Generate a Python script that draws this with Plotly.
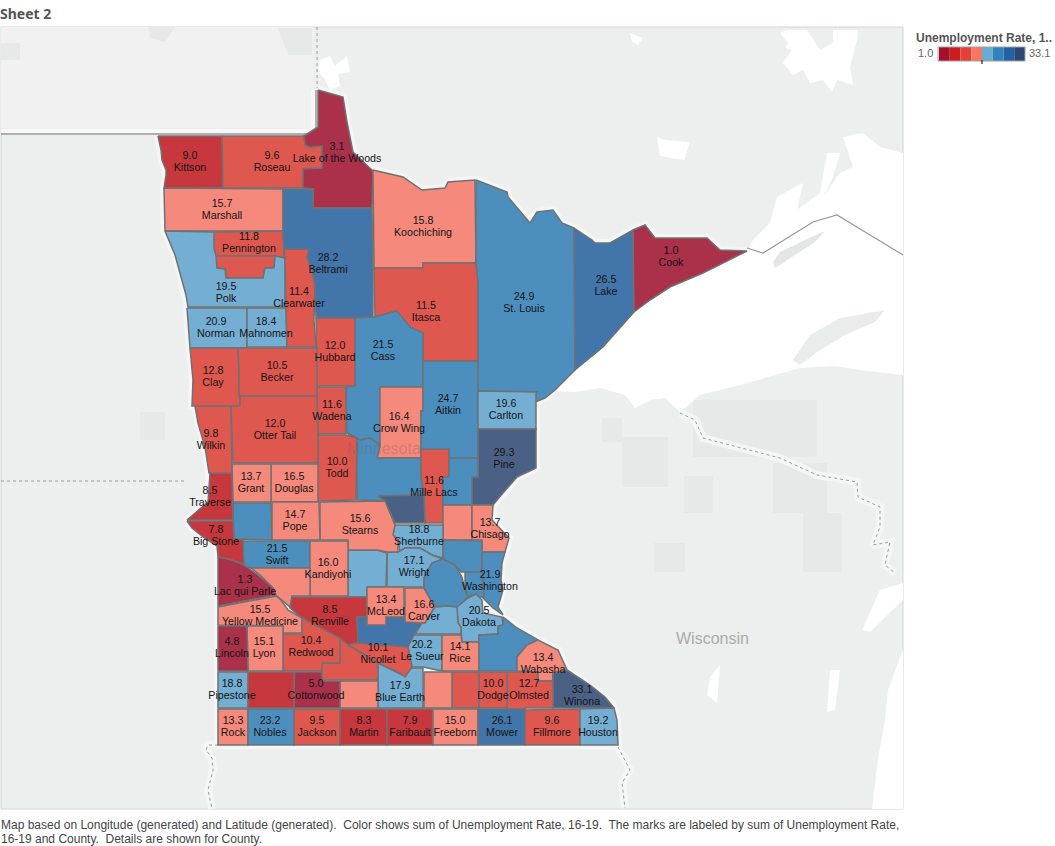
import numpy as np
import plotly.graph_objects as go

# Rates; counties with no label are estimated from their colour
county_values = {
    'Aitkin': 24.7, 'Anoka': 23.0, 'Becker': 10.5, 'Beltrami': 28.2, 'Benton': 30.0, 'Big Stone': 7.8,
    'Blue Earth': 17.9, 'Brown': 11.0, 'Carlton': 19.6, 'Carver': 16.6, 'Cass': 21.5, 'Chippewa': 15.0,
    'Chisago': 13.7, 'Clay': 12.8, 'Clearwater': 11.4, 'Cook': 1.0, 'Cottonwood': 5.0, 'Crow Wing': 16.4,
    'Dakota': 20.5, 'Dodge': 10.0, 'Douglas': 16.5, 'Faribault': 7.9, 'Fillmore': 9.6, 'Freeborn': 15.0,
    'Goodhue': 23.0, 'Grant': 13.7, 'Hennepin': 23.0, 'Houston': 19.2, 'Hubbard': 12.0, 'Isanti': 15.0,
    'Itasca': 11.5, 'Jackson': 9.5, 'Kanabec': 23.0, 'Kandiyohi': 16.0, 'Kittson': 9.0, 'Koochiching': 15.8,
    'Lac qui Parle': 1.3, 'Lake': 26.5, 'Lake of the Woods': 3.1, 'Le Sueur': 20.2, 'Lincoln': 4.8,
    'Lyon': 15.1, 'McLeod': 13.4, 'Mahnomen': 18.4, 'Marshall': 15.7, 'Martin': 8.3, 'Meeker': 18.0,
    'Mille Lacs': 11.6, 'Morrison': 23.0, 'Mower': 26.1, 'Murray': 8.0, 'Nicollet': 10.1, 'Nobles': 23.2,
    'Norman': 20.9, 'Olmsted': 12.7, 'Otter Tail': 12.0, 'Pennington': 11.8, 'Pine': 29.3, 'Pipestone': 18.8,
    'Polk': 19.5, 'Pope': 14.7, 'Ramsey': 23.0, 'Red Lake': 11.0, 'Redwood': 10.4, 'Renville': 8.5,
    'Rice': 14.1, 'Rock': 13.3, 'Roseau': 9.6, 'St. Louis': 24.9, 'Scott': 19.0, 'Sherburne': 18.8,
    'Sibley': 27.0, 'Stearns': 15.6, 'Steele': 11.0, 'Stevens': 24.0, 'Swift': 21.5, 'Todd': 10.0,
    'Traverse': 8.5, 'Wabasha': 13.4, 'Wadena': 11.6, 'Waseca': 15.0, 'Washington': 21.9, 'Watonwan': 14.0,
    'Wilkin': 9.8, 'Winona': 33.1, 'Wright': 17.1, 'Yellow Medicine': 15.5,
}

unlabeled = ['Anoka', 'Benton', 'Brown', 'Chippewa', 'Goodhue', 'Hennepin', 'Isanti', 'Kanabec', 'Meeker',
             'Morrison', 'Murray', 'Ramsey', 'Red Lake', 'Scott', 'Sibley', 'Steele', 'Stevens', 'Waseca',
             'Watonwan']

bin_edges = [5, 9, 13, 17, 21, 25, 29]
fill_colors = ['#AB304A', '#C6383D', '#DF5850', '#F4897C', '#74AED3', '#4C8FBF', '#4275AA', '#4B6085']
legend_colors = ['#A50F2D', '#C81E22', '#E33F37', '#FA7566', '#68ACD4', '#3083BC', '#2262A3', '#2C4870']
legend_min = '1.0'
legend_max = '33.1'
legend_title = 'Unemployment Rate, 1..'
sheet_title = 'Sheet 2'
footer_1 = ('Map based on Longitude (generated) and Latitude (generated).  Color shows sum of Unemployment Rate, '
            '16-19.  The marks are labeled by sum of Unemployment Rate,')
footer_2 = '16-19 and County.  Details are shown for County.'

# County outlines traced in the map's own projected units
county_outlines = {
    'Kittson': [(158,136),(222,136),(223,188),(164,188),(166,175),(166,170),(162,160),(161,150)],
    'Roseau': [(222,136),(304,136),(305,145),(310,147),(322,146),(322,168),(303,169),(303,188),(223,188)],
    'Lake of the Woods': [(318,90),(343,97),(347,122),(353,152),(373,171),(372,208),(313,208),(313,189),(303,188),(303,169),(322,168),(322,146),(310,147),(305,145),(304,136),(318,127)],
    'Marshall': [(164,188),(283,189),(283,231),(165,231)],
    'Pennington': [(214,232),(283,231),(284,258),(275,256),(216,256),(214,248)],
    'Red Lake': [(216,256),(275,256),(274,268),(265,268),(263,278),(226,278),(225,269),(217,268)],
    'Polk': [(165,231),(214,232),(214,248),(216,256),(217,268),(225,269),(226,278),(263,278),(265,268),(274,268),(275,256),(285,258),(285,307),(188,307),(186,295),(182,280),(175,255)],
    'Norman': [(187,308),(247,308),(247,348),(190,348)],
    'Mahnomen': [(247,308),(286,308),(287,347),(247,347)],
    'Clearwater': [(284,249),(309,249),(307,257),(312,270),(315,285),(314,320),(316,347),(287,347),(286,308),(285,258)],
    'Beltrami': [(283,189),(313,189),(313,208),(372,208),(373,268),(373,317),(355,318),(316,318),(315,285),(312,270),(307,257),(309,249),(284,249),(283,231)],
    'Koochiching': [(373,170),(385,173),(403,177),(422,190),(445,188),(448,182),(475,180),(476,263),(423,263),(423,268),(374,268)],
    'Itasca': [(374,268),(423,268),(423,263),(476,263),(478,283),(478,361),(423,361),(423,333),(413,330),(403,320),(395,311),(375,317)],
    'Cass': [(355,318),(374,317),(397,311),(410,327),(423,333),(423,387),(380,387),(380,445),(370,438),(360,440),(347,433),(346,387),(355,386)],
    'Crow Wing': [(380,387),(423,387),(423,411),(421,411),(421,458),(377,458),(380,445)],
    'Hubbard': [(316,318),(355,318),(355,386),(317,386)],
    'Wadena': [(317,387),(346,387),(346,434),(318,434)],
    'Todd': [(318,435),(346,435),(357,438),(356,500),(318,501)],
    'Morrison': [(347,433),(360,440),(370,438),(380,445),(377,458),(421,458),(421,477),(424,495),(378,496),(385,501),(357,500),(357,438)],
    'Mille Lacs': [(421,449),(449,449),(449,477),(443,477),(443,523),(425,523),(424,495),(421,477)],
    'Benton': [(378,496),(424,495),(425,523),(395,523),(385,501)],
    'Aitkin': [(423,361),(478,361),(478,390),(478,458),(449,458),(449,449),(421,449),(421,411),(423,411)],
    'St. Louis': [(476,180),(507,192),(508,197),(530,223),(537,212),(553,210),(562,223),(574,228),(575,370),(555,390),(545,398),(535,402),(537,392),(478,391),(478,283),(476,263)],
    'Lake': [(574,228),(592,240),(595,243),(610,243),(633,230),(634,312),(603,347),(575,370)],
    'Cook': [(633,230),(645,225),(655,238),(707,238),(720,250),(747,251),(703,273),(670,287),(650,300),(634,312)],
    'Carlton': [(478,391),(536,392),(536,429),(478,429)],
    'Pine': [(478,429),(536,429),(536,468),(517,477),(503,493),(493,505),(472,505),(472,477),(478,477)],
    'Kanabec': [(449,458),(478,458),(478,477),(472,477),(472,505),(443,505),(443,477),(449,477)],
    'Isanti': [(443,505),(472,505),(472,540),(443,540)],
    'Chisago': [(472,505),(493,505),(492,520),(509,538),(505,552),(482,552),(482,540),(472,540)],
    'Sherburne': [(395,525),(443,525),(443,558),(432,555),(420,548),(405,548),(400,552),(398,540),(393,535)],
    'Wright': [(387,552),(398,552),(405,548),(420,548),(432,555),(443,559),(432,563),(424,578),(424,587),(387,587)],
    'Meeker': [(348,550),(377,550),(387,553),(386,587),(367,587),(367,597),(348,597)],
    'Stearns': [(320,502),(385,501),(395,525),(393,535),(398,540),(398,552),(387,552),(377,550),(348,550),(348,540),(320,540)],
    'Douglas': [(271,464),(318,464),(318,502),(271,502)],
    'Grant': [(232,464),(271,464),(271,502),(233,502)],
    'Stevens': [(233,503),(271,503),(272,540),(234,539)],
    'Pope': [(272,502),(319,502),(320,540),(272,540)],
    'Traverse': [(210,473),(232,473),(233,520),(187,520),(208,502)],
    'Wilkin': [(195,406),(231,406),(232,473),(209,473),(205,447),(198,423)],
    'Clay': [(190,348),(238,348),(240,406),(192,406),(193,380)],
    'Becker': [(238,348),(317,348),(317,396),(239,396),(239,367)],
    'Otter Tail': [(240,396),(317,396),(318,435),(318,463),(233,463),(231,406),(240,406)],
    'Big Stone': [(187,521),(233,521),(234,539),(243,540),(244,565),(232,560),(218,557),(217,546),(203,537),(192,528)],
    'Swift': [(243,541),(310,541),(310,568),(250,568),(244,565)],
    'Kandiyohi': [(310,541),(348,541),(348,596),(310,596)],
    'Chippewa': [(251,568),(310,568),(310,596),(292,596),(290,607),(278,597),(275,596),(273,588),(260,575)],
    'Lac qui Parle': [(218,557),(232,560),(244,565),(258,575),(273,588),(276,595),(218,606)],
    'Yellow Medicine': [(218,607),(276,596),(281,600),(288,610),(302,618),(302,633),(283,633),(283,626),(218,625)],
    'Renville': [(292,597),(367,597),(367,617),(357,617),(358,643),(348,645),(338,638),(320,630),(302,618),(290,608)],
    'Sibley': [(357,617),(367,617),(367,625),(386,625),(386,617),(405,617),(405,622),(422,623),(414,635),(408,647),(358,643)],
    'McLeod': [(367,587),(404,587),(404,617),(386,617),(386,625),(367,625)],
    'Carver': [(405,588),(424,588),(435,607),(425,623),(422,623),(405,622)],
    'Hennepin': [(443,559),(455,565),(462,577),(465,590),(468,597),(458,607),(447,606),(435,607),(424,588),(424,578),(432,563)],
    'Anoka': [(443,540),(482,541),(482,552),(482,572),(465,572),(461,572),(455,565),(443,559)],
    'Ramsey': [(465,572),(483,572),(484,597),(480,597),(476,594),(468,597),(465,587)],
    'Washington': [(482,552),(505,552),(502,563),(501,580),(503,590),(498,607),(503,615),(493,608),(482,597),(484,597),(483,572),(482,572)],
    'Dakota': [(457,607),(468,598),(476,594),(482,600),(483,613),(502,617),(503,625),(498,626),(498,634),(479,635),(479,642),(462,642),(461,627),(458,623)],
    'Scott': [(435,607),(447,606),(457,607),(458,623),(461,627),(461,634),(442,634),(415,634),(422,623),(425,623)],
    'Le Sueur': [(414,635),(442,635),(442,671),(423,667),(412,667),(408,647)],
    'Rice': [(442,635),(461,635),(462,642),(479,642),(479,671),(442,671)],
    'Goodhue': [(479,635),(498,634),(498,626),(503,625),(503,617),(517,628),(538,640),(527,645),(517,657),(517,671),(479,671)],
    'Wabasha': [(527,645),(538,640),(558,650),(567,670),(553,673),(553,681),(538,681),(538,672),(517,671),(517,657)],
    'Winona': [(567,670),(590,685),(605,697),(614,708),(553,708),(553,681),(553,673)],
    'Olmsted': [(507,672),(538,672),(538,681),(553,681),(553,708),(525,708),(525,710),(507,710)],
    'Dodge': [(479,672),(507,672),(507,708),(479,708)],
    'Steele': [(452,672),(479,672),(479,708),(452,708)],
    'Waseca': [(424,672),(452,672),(452,708),(424,708)],
    'Blue Earth': [(378,663),(402,675),(405,668),(423,668),(423,708),(378,708)],
    'Nicollet': [(340,640),(348,645),(358,643),(408,647),(412,667),(405,677),(400,673),(378,663)],
    'Brown': [(340,638),(348,645),(378,663),(378,680),(322,680),(322,663),(340,663)],
    'Watonwan': [(340,681),(378,681),(378,708),(340,708)],
    'Cottonwood': [(294,672),(322,672),(322,681),(340,681),(340,708),(294,708)],
    'Redwood': [(283,634),(302,634),(302,618),(340,638),(340,663),(322,663),(322,671),(283,671)],
    'Lyon': [(247,626),(283,626),(283,671),(248,671)],
    'Lincoln': [(218,626),(247,626),(248,671),(218,671)],
    'Pipestone': [(218,672),(248,672),(248,708),(218,708)],
    'Murray': [(248,672),(294,672),(294,708),(248,708)],
    'Rock': [(218,709),(248,709),(248,745),(218,745)],
    'Nobles': [(248,709),(294,709),(294,745),(248,745)],
    'Jackson': [(294,709),(340,709),(340,745),(294,745)],
    'Martin': [(340,709),(387,709),(387,745),(340,745)],
    'Faribault': [(387,709),(433,709),(433,745),(387,745)],
    'Freeborn': [(433,709),(478,709),(478,745),(433,745)],
    'Mower': [(478,709),(525,709),(525,745),(478,745)],
    'Fillmore': [(525,710),(580,709),(580,745),(525,745)],
    'Houston': [(580,709),(614,708),(617,720),(618,745),(580,745)],
}

label_spots = {
    'Kittson': (190,162), 'Roseau': (272,162), 'Lake of the Woods': (337,153), 'Marshall': (222,210),
    'Pennington': (249,243), 'Beltrami': (328,264), 'Koochiching': (423,227), 'Itasca': (426,312),
    'St. Louis': (524,303), 'Lake': (606,286), 'Cook': (671,257), 'Cass': (383,351), 'Polk': (226,293),
    'Clearwater': (299,298), 'Norman': (216,328), 'Mahnomen': (266,328), 'Hubbard': (335,352),
    'Becker': (277,372), 'Clay': (213,377), 'Wadena': (332,411), 'Otter Tail': (275,430), 'Wilkin': (211,440),
    'Todd': (337,468), 'Crow Wing': (399,423), 'Aitkin': (448,405), 'Carlton': (506,410), 'Pine': (504,459),
    'Mille Lacs': (434,487), 'Grant': (251,483), 'Douglas': (294,483), 'Traverse': (210,497), 'Pope': (295,521),
    'Big Stone': (216,536), 'Swift': (277,555), 'Kandiyohi': (328,569), 'Lac qui Parle': (245,586),
    'Yellow Medicine': (260,616), 'Renville': (330,616), 'Stearns': (360,525), 'Chisago': (490,529),
    'Sherburne': (419,536), 'Wright': (414,567), 'Washington': (490,581), 'McLeod': (386,606), 'Carver': (424,611),
    'Dakota': (479,617), 'Le Sueur': (422,651), 'Rice': (460,653), 'Nicollet': (378,654), 'Wabasha': (543,664),
    'Lincoln': (232,648), 'Lyon': (264,648), 'Redwood': (311,647), 'Pipestone': (232,690), 'Cottonwood': (316,690),
    'Blue Earth': (400,692), 'Dodge': (493,690), 'Olmsted': (529,690), 'Winona': (582,696), 'Rock': (233,727),
    'Nobles': (270,727), 'Jackson': (317,727), 'Martin': (364,727), 'Faribault': (410,727), 'Freeborn': (455,727),
    'Mower': (502,727), 'Fillmore': (552,727), 'Houston': (598,727),
}

# Base map features
superior = [(556,391),(575,370),(603,347),(634,312),(650,300),(670,287),(703,273),(747,251),(753,240),(770,223),
            (777,197),(803,183),(797,210),(820,193),(827,153),(840,153),(833,177),(823,197),(840,173),(853,167),
            (843,137),(863,133),(880,147),(903,153),
            (903,375),(860,370),(835,366),(800,368),(740,385),(700,395),(680,412),(665,398),(650,400),(635,408),
            (625,395),(600,388),(575,392)]
white_lakes = [
    [(903,650),(888,690),(885,720),(878,760),(872,809),(903,809)],
    [(903,583),(880,590),(862,630),(870,632),(903,600)],
    [(830,670),(840,670),(835,710),(827,712)],
    [(720,665),(717,703),(707,695),(710,677)],
    [(320,60),(330,56),(335,66),(347,56),(350,72),(338,74),(340,86),(330,90),(324,78),(318,72)],
    [(780,33),(788,43),(785,48),(792,50),(783,63),(793,75),(803,70),(810,83),(823,80),(832,92),(837,80),(853,85),
     (850,67),(857,40),(858,30),(833,30),(833,43),(820,50),(807,30),(787,30)],
    [(657,137),(665,140),(690,142),(684,160),(660,156)],
    [(630,33),(643,38),(638,45),(632,42)],
]
forest_patches = [
    [(693,400),(817,400),(817,457),(693,457)],
    [(773,463),(827,463),(827,513),(773,513)],
    [(803,513),(842,513),(842,572),(803,572)],
    [(684,476),(713,476),(713,513),(684,513)],
    [(654,543),(685,543),(685,572),(654,572)],
    [(602,418),(622,418),(622,442),(602,442)],
    [(622,437),(668,437),(668,487),(622,487)],
    [(148,27),(175,27),(165,42),(150,38)],
    [(278,28),(312,28),(312,55),(288,55)],
    [(1,43),(20,43),(20,60),(1,60)],
    [(140,412),(165,412),(165,440),(140,440)],
]
isle_royale = [(773,262),(780,252),(805,240),(825,231),(815,242),(790,258),(775,268)]
keweenaw = [(793,360),(810,335),(840,318),(885,310),(875,322),(845,335),(820,350),(800,365)]
canada_line = [(1,134),(316,134),(316,90)]
canada_halo = [(1,131),(313,131),(313,90)]
shore_line = [(747,248),(763,253),(813,222),(837,215),(903,255)]
dotted_borders = [
    [(317,27),(317,88)],
    [(1,481),(185,481)],
    [(680,413),(695,420),(703,438),(780,458),(817,475),(857,482),(858,497),(880,507),(880,527),(873,545),(890,542),(885,565),(895,573)],
    [(618,747),(630,770),(622,783),(625,808)],
    [(218,745),(208,745),(206,750),(212,758),(213,770),(208,790),(212,809)],
]


def xy(points):
    # close the ring so the outline comes back to its start
    pts = list(points) + [points[0]]
    return [p[0] for p in pts], [p[1] for p in pts]


def add_area(fig, points, color):
    x, y = xy(points)
    fig.add_trace(go.Scatter(x=x, y=y, mode='lines', fill='toself', fillcolor=color,
                             line=dict(width=0, color=color), hoverinfo='skip'))


def add_line(fig, points, color, width, dash='solid'):
    fig.add_trace(go.Scatter(x=[p[0] for p in points], y=[p[1] for p in points], mode='lines',
                             line=dict(color=color, width=width, dash=dash), hoverinfo='skip'))


fig = go.Figure()

add_area(fig, [(1,27),(313,27),(313,128),(1,128)], '#F1F1F1')
for patch in forest_patches:
    add_area(fig, patch, '#E7E9E8')

# pale halo round the state and the borders
halo_x, halo_y = [], []
for name in county_outlines:
    x, y = xy(county_outlines[name])
    halo_x += x + [None]
    halo_y += y + [None]
for border in dotted_borders[2:]:
    halo_x += [p[0] for p in border] + [None]
    halo_y += [p[1] for p in border] + [None]
fig.add_trace(go.Scatter(x=halo_x, y=halo_y, mode='lines', line=dict(color='#F4F5F5', width=8), hoverinfo='skip'))

add_area(fig, superior, '#FFFFFF')
for lake in white_lakes:
    add_area(fig, lake, '#FFFFFF')
add_area(fig, isle_royale, '#E4E6E5')
add_area(fig, keweenaw, '#EAECEB')

add_line(fig, canada_halo, '#F8F8F8', 4)
add_line(fig, canada_line, '#9A9A9A', 1.5)
add_line(fig, shore_line, '#9A9A9A', 1.2)
for border in dotted_borders:
    add_line(fig, border, '#9C9C9C', 1, 'dot')

for name in county_outlines:
    value = county_values[name]
    color = fill_colors[int(np.digitize(value, bin_edges, right=True))]
    x, y = xy(county_outlines[name])
    fig.add_trace(go.Scatter(x=x, y=y, mode='lines', fill='toself', fillcolor=color,
                             line=dict(color='#707172', width=1.5), name=name,
                             text=f'{name}: {value}', hoverinfo='text'))

# values and names go in two traces so the lines sit 12px apart
labeled = [n for n in county_outlines if n not in unlabeled]
label_font = dict(family='Liberation Sans', size=10.67, color='#141414')
fig.add_trace(go.Scatter(x=[label_spots[n][0] for n in labeled], y=[label_spots[n][1] - 6 for n in labeled],
                         mode='text', text=[f'{county_values[n]:.1f}' for n in labeled],
                         textfont=label_font, hoverinfo='skip'))
fig.add_trace(go.Scatter(x=[label_spots[n][0] for n in labeled], y=[label_spots[n][1] + 6 for n in labeled],
                         mode='text', text=labeled, textfont=label_font, hoverinfo='skip'))

fig.add_annotation(x=712, y=638, text='Wisconsin', showarrow=False,
                   font=dict(family='Liberation Sans', size=16, color='#ABABAB'))
fig.add_annotation(x=384, y=448, text='Minnesota', showarrow=False,
                   font=dict(family='Liberation Sans', size=16, color='rgba(110,90,90,0.28)'))

fig.add_annotation(x=0, xshift=-2, y=13, text=f'<b>{sheet_title}</b>', showarrow=False, xanchor='left',
                   font=dict(family='Noto Sans', size=14, color='#555555'))
fig.add_annotation(x=0, xshift=-1, y=825, text=footer_1, showarrow=False, xanchor='left',
                   font=dict(family='Liberation Sans', size=12, color='#444444'))
fig.add_annotation(x=0, xshift=-1, y=839, text=footer_2, showarrow=False, xanchor='left',
                   font=dict(family='Liberation Sans', size=12, color='#444444'))

# colour legend
fig.add_annotation(x=914, y=38, text=f'<b>{legend_title}</b>', showarrow=False, xanchor='left',
                   font=dict(family='Liberation Sans', size=12, color='#555555'))
fig.add_annotation(x=935, y=53, text=legend_min, showarrow=False, xanchor='right',
                   font=dict(family='Liberation Sans', size=11, color='#666666'))
fig.add_annotation(x=1027, y=53, text=legend_max, showarrow=False, xanchor='left',
                   font=dict(family='Liberation Sans', size=11, color='#666666'))
shapes = [dict(type='rect', x0=1, x1=903, y0=27, y1=809, line=dict(color='#D4D4D4', width=1), layer='below',
               fillcolor='#EDEEEE')]
cell = (1025 - 939) / len(legend_colors)
for i, c in enumerate(legend_colors):
    shapes.append(dict(type='rect', x0=939 + i * cell, x1=939 + (i + 1) * cell, y0=47, y1=61,
                       fillcolor=c, line=dict(width=0)))
shapes.append(dict(type='rect', x0=938, x1=1025, y0=47, y1=61, line=dict(color='#A0A0A0', width=1)))
shapes.append(dict(type='line', x0=982, x1=982, y0=60, y1=64, line=dict(color='black', width=1)))

fig.update_layout(
    width=1055,
    height=846,
    margin=dict(l=0, r=0, b=0, t=0),
    showlegend=False,
    paper_bgcolor='white',
    plot_bgcolor='white',
    shapes=shapes)

fig.update_xaxes(range=[0, 1055], visible=False, fixedrange=True)
fig.update_yaxes(range=[846, 0], visible=False, fixedrange=True)

fig.write_html("out.html", config=dict(displayModeBar=False),
               post_script="document.body.style.margin='0';document.body.style.overflow='hidden';")
